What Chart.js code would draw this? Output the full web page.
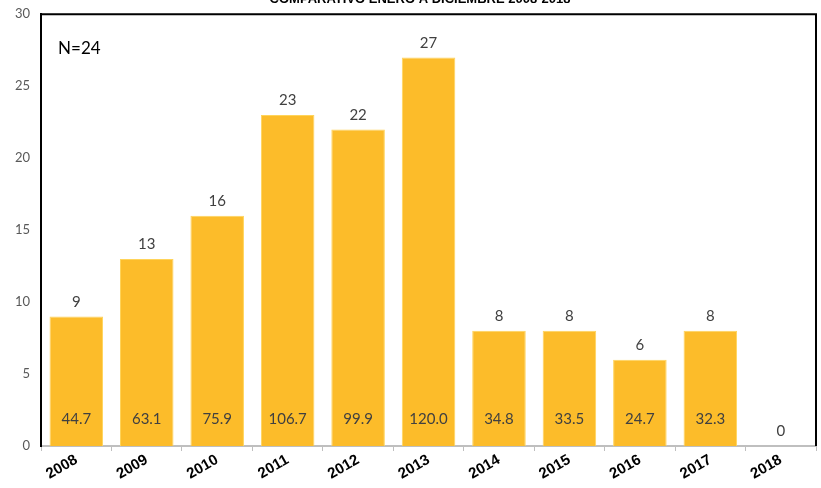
<!DOCTYPE html>
<html>
<head>
<meta charset="utf-8">
<script src="https://cdn.jsdelivr.net/npm/chart.js@4.4.0/dist/chart.umd.min.js"></script>
<style>
  html, body { margin: 0; padding: 0; background: #fff; }
  #wrap { width: 821px; height: 488px; position: relative; }
</style>
</head>
<body>
<div id="wrap"><canvas id="myChart"></canvas></div>
<script>
const chartTitle = 'COMPARATIVO ENERO A DICIEMBRE 2008-2018';
const noteText = 'N=24';
const years = ['2008', '2009', '2010', '2011', '2012', '2013', '2014', '2015', '2016', '2017', '2018'];
const cases = [9, 13, 16, 23, 22, 27, 8, 8, 6, 8, 0];
const rates = ['44.7', '63.1', '75.9', '106.7', '99.9', '120.0', '34.8', '33.5', '24.7', '32.3', ''];
const yTicks = [0, 5, 10, 15, 20, 25, 30];

// labels above and inside the bars, plus frame and title
const extras = {
    id: 'extras',
    afterDatasetsDraw(chart) {
        const ctx = chart.ctx;
        const area = chart.chartArea;
        const yScale = chart.scales.y;
        const meta = chart.getDatasetMeta(0);
        ctx.save();
        ctx.fillStyle = '#404040';
        ctx.font = '15px Lato';
        ctx.textAlign = 'center';
        ctx.textBaseline = 'bottom';
        meta.data.forEach((bar, i) => {
            ctx.fillText(String(cases[i]), bar.x, bar.y - 7);
            if (rates[i]) {
                ctx.textBaseline = 'middle';
                ctx.fillText(rates[i], bar.x, yScale.getPixelForValue(0) - 27);
                ctx.textBaseline = 'bottom';
            }
        });
        // frame top/right
        ctx.strokeStyle = '#000';
        ctx.lineWidth = 2;
        ctx.beginPath();
        ctx.moveTo(area.left, area.top);
        ctx.lineTo(area.right, area.top);
        ctx.lineTo(area.right, area.bottom);
        ctx.stroke();
        // N text
        ctx.fillStyle = '#000';
        ctx.font = '17px Lato';
        ctx.textAlign = 'left';
        ctx.textBaseline = 'middle';
        ctx.fillText(noteText, area.left + 17, 49);
        // title, partly cut off at top
        ctx.font = 'bold 13px "Liberation Sans"';
        ctx.textAlign = 'center';
        ctx.fillText(chartTitle, 420, -1);
        ctx.restore();
    }
};

const chartContext = document.getElementById('myChart').getContext('2d');
const myChart = new Chart(chartContext, {
    type: 'bar',
    data: {
        labels: years,
        datasets: [{
            data: cases,
            backgroundColor: '#FCBC2A',
            borderColor: '#FFD45A',
            borderWidth: 1,
            categoryPercentage: 1,
            barPercentage: 0.76
        }]
    },
    options: {
        responsive: true,
        maintainAspectRatio: false,
        animation: false,
        layout: { padding: { top: 13, right: 5, left: 4, bottom: 0 } },
        plugins: {
            legend: { display: false },
            tooltip: { enabled: false }
        },
        scales: {
            x: {
                afterFit(axis) { axis.height = 42; },
                grid: {
                    display: true,
                    drawOnChartArea: false,
                    drawTicks: true,
                    tickLength: 5,
                    color: '#BFBFBF',
                    offset: true
                },
                border: { display: true, color: '#BFBFBF', width: 2 },
                ticks: {
                    color: '#000',
                    font: { family: 'Liberation Sans', size: 15, weight: 'bold' },
                    minRotation: 30,
                    maxRotation: 30,
                    padding: 0
                }
            },
            y: {
                min: 0,
                max: 30,
                afterBuildTicks(axis) {
                    axis.ticks = yTicks.map(v => ({ value: v }));
                },
                grid: { display: false, drawTicks: false },
                border: { display: true, color: '#000', width: 2 },
                ticks: {
                    color: '#595959',
                    font: { family: 'Lato', size: 13, lineHeight: 0.5 },
                    padding: 11
                }
            }
        }
    },
    plugins: [extras]
});
</script>
</body>
</html>
